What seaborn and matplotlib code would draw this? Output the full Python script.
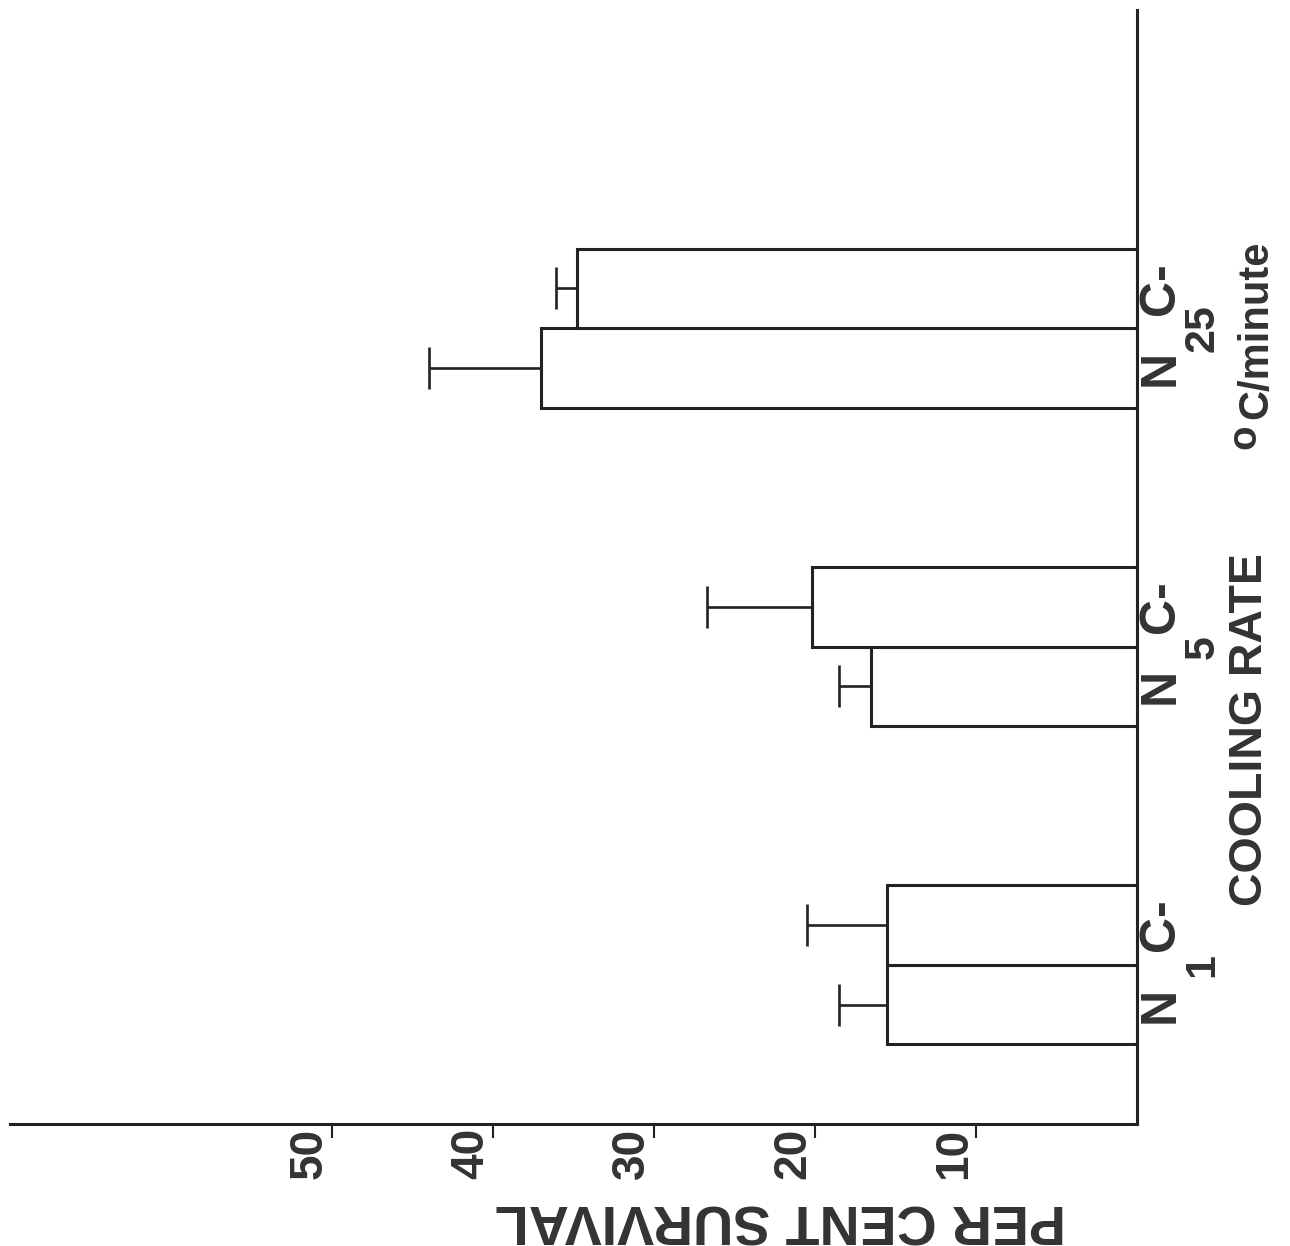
import matplotlib
matplotlib.use("Agg")
import matplotlib.pyplot as plt
import pandas as pd
import seaborn as sns

# Cooling-rate survival data (per cent survival, mean and one-sided error)
rates = ["1", "5", "25"]
treatments = ["N", "C-"]
survival_n = [15.5, 16.5, 37.0]
survival_c = [15.5, 20.2, 34.8]
error_n = [3.0, 2.0, 7.0]
error_c = [5.0, 6.5, 1.3]
value_ticks = [10, 20, 30, 40, 50]

df = pd.DataFrame({
    "rate": rates * 2,
    "treatment": [treatments[0]] * len(rates) + [treatments[1]] * len(rates),
    "survival": survival_n + survival_c,
    "error": error_n + error_c,
})

sns.set_theme(style="white")
plt.rcParams["font.family"] = ["Liberation Sans", "DejaVu Sans"]

ink = "#222222"
text_ink = "#333333"

fig = plt.figure(figsize=(12.9, 12.46), dpi=100)
fig.patch.set_facecolor("white")
ax = fig.add_axes([10 / 1290, 1 - 1124 / 1246, 1127 / 1290, 1114 / 1246])

sns.barplot(
    data=df, x="survival", y="rate", hue="treatment",
    order=rates, hue_order=treatments, orient="h",
    width=0.5, dodge=True, palette=["white", "white"], saturation=1,
    edgecolor=ink, linewidth=2.2, errorbar=None, legend=False, ax=ax,
)

# one-sided error bars pointing away from the baseline
errors = {treatments[0]: error_n, treatments[1]: error_c}
for tr, container in zip(treatments, ax.containers):
    for bar, err in zip(container, errors[tr]):
        yc = bar.get_y() + bar.get_height() / 2
        val = bar.get_width()
        ax.errorbar([val], [yc], xerr=[[0], [err]], fmt="none",
                    ecolor=ink, elinewidth=1.9, capsize=15, capthick=1.9,
                    zorder=1)
        # treatment letter beside each bar
        ax.text(1.0213, yc, tr, transform=ax.get_yaxis_transform(),
                rotation=90, ha="center", va="center", fontsize=36,
                fontweight="bold", color=text_ink, clip_on=False)

# cooling-rate subscripts between the paired bars
for i, r in enumerate(rates):
    ax.text(1.058, i, r, transform=ax.get_yaxis_transform(),
            rotation=90, ha="center", va="center", fontsize=31,
            fontweight="bold", color=text_ink, clip_on=False)

ax.set_xlim(70, 0)
ax.set_ylim(-0.5, 3.0)
ax.set_yticks([])
ax.set_xticks(value_ticks)
ax.set_xticklabels([str(v) for v in value_ticks])
ax.tick_params(axis="x", bottom=True, direction="out", length=10, width=1.5,
               color=ink, pad=-7, labelsize=33, labelcolor=text_ink,
               labelrotation=90)
for lbl in ax.get_xticklabels():
    lbl.set_ha("right")
    lbl.set_va("top")
    lbl.set_fontweight("bold")

ax.set_xlabel("")
ax.set_ylabel("")
for side in ["top", "left"]:
    ax.spines[side].set_visible(False)
for side in ["right", "bottom"]:
    ax.spines[side].set_visible(True)
    ax.spines[side].set_color(ink)
    ax.spines[side].set_linewidth(2.2)

# axis titles
fig.text(780 / 1290, 1 - 1219 / 1246, "PER CENT SURVIVAL", rotation=180,
         ha="center", va="center", fontsize=40, fontweight="bold",
         color=text_ink)
fig.text(1250 / 1290, 1 - 730 / 1246, "COOLING RATE", rotation=90,
         ha="center", va="center", fontsize=33.5, fontweight="bold",
         color=text_ink)
fig.text(1244 / 1290, 1 - 437 / 1246, "o", rotation=90,
         ha="center", va="center", fontsize=29, fontweight="bold",
         color=text_ink)
fig.text(1256 / 1290, 1 - 330 / 1246, "C/minute", rotation=90,
         ha="center", va="center", fontsize=30, fontweight="bold",
         color=text_ink)

fig.savefig("out.png", dpi=100, facecolor="white")
